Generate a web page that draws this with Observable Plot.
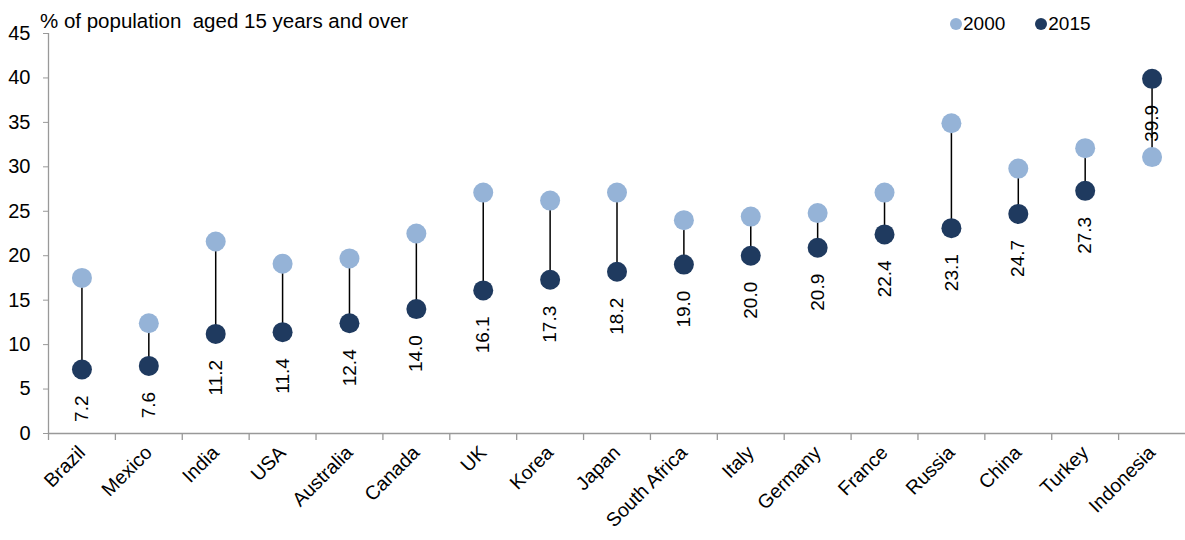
<!DOCTYPE html>
<html><head><meta charset="utf-8">
<script src="https://cdn.jsdelivr.net/npm/d3@7"></script>
<script src="https://cdn.jsdelivr.net/npm/@observablehq/plot@0.6"></script>
<style>
body{margin:0;background:#fff;font-family:"Liberation Sans",Arial,sans-serif;}
#wrap{position:relative;width:1185px;height:540px;}
#title{position:absolute;left:40px;top:9px;font-size:20.5px;color:#000;white-space:pre;line-height:23px;}
#legend{position:absolute;left:950px;top:12px;font-size:19px;line-height:23px;color:#000;display:flex;align-items:center;}
#legend .item{display:flex;align-items:center;margin-right:30px;}
#legend .sw{width:12px;height:12px;border-radius:50%;margin-right:1px;}
</style></head>
<body><div id="wrap"><div id="chart"></div>
<div id="title">% of population  aged 15 years and over</div>
<div id="legend"></div></div>
<script>
const countries = ["Brazil","Mexico","India","USA","Australia","Canada","UK","Korea","Japan","South Africa","Italy","Germany","France","Russia","China","Turkey","Indonesia"];
const v2000 = [17.5,12.4,21.6,19.1,19.7,22.5,27.1,26.2,27.1,24.0,24.4,24.8,27.1,34.9,29.8,32.1,31.1];
const v2015 = [7.2,7.6,11.2,11.4,12.4,14.0,16.1,17.3,18.2,19.0,20.0,20.9,22.4,23.1,24.7,27.3,39.9];
const yTicks = [0,5,10,15,20,25,30,35,40,45];
const seriesNames = ["2000","2015"];
const colors = ["#95b3d7","#1f3a5f"];

const data = countries.map((c,i)=>({country:c, a:v2000[i], b:v2015[i]}));
const W = 1185, H = 540, mL = 48, mR = 0, mT = 33, mB = 107;
const bw = (W - mL - mR) / countries.length;

const chart = Plot.plot({
  width: W, height: H,
  marginLeft: mL, marginRight: mR, marginTop: mT, marginBottom: mB,
  style: {fontFamily: "Liberation Sans, Arial, sans-serif", fontSize: "18px", color: "#000", background: "#fff"},
  x: {type: "band", domain: countries, paddingInner: 0, paddingOuter: 0, round: false, label: null},
  y: {domain: [0,45], label: null},
  marks: [
    Plot.axisY({ticks: yTicks, tickSize: 5, tickPadding: 13, stroke: "#999", fontSize: 20, label: null}),
    Plot.axisX({tickSize: 0, tickPadding: 16, tickRotate: -45, fontSize: 19.5, label: null}),
    Plot.ruleY([0], {stroke: "#999", strokeWidth: 1.3}),
    Plot.ruleX([countries[0]], {y1: 0, y2: 45, dx: -bw/2, stroke: "#999", strokeWidth: 1.3}),
    Plot.ruleX(countries, {x: d=>d, y1: 0, y2: 0, insetBottom: -7, dx: -bw/2, stroke: "#999", strokeWidth: 1.3}),
    Plot.ruleX(data, {x: "country", y1: "a", y2: "b", stroke: "#000", strokeWidth: 1.5}),
    Plot.dot(data, {x: "country", y: "a", r: 10, fill: colors[0], stroke: "none"}),
    Plot.dot(data, {x: "country", y: "b", r: 10, fill: colors[1], stroke: "none"}),
    Plot.text(data, {x: "country", y: "b", text: d=>d.b.toFixed(1), rotate: -90, textAnchor: "end", dy: 26, fontSize: 19, fill: "#000"})
  ]
});
document.getElementById("chart").appendChild(chart);

const leg = document.getElementById("legend");
seriesNames.forEach((s,i)=>{
  const it = document.createElement("div"); it.className = "item";
  const sw = document.createElement("span"); sw.className = "sw"; sw.style.background = colors[i];
  const t = document.createElement("span"); t.textContent = s;
  it.appendChild(sw); it.appendChild(t); leg.appendChild(it);
});
</script></body></html>
